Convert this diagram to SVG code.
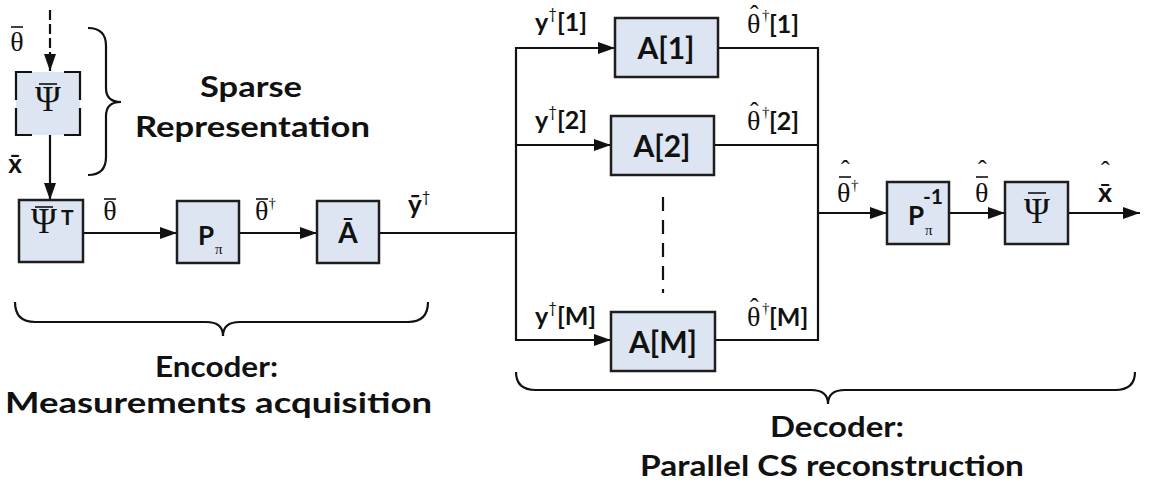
<svg xmlns="http://www.w3.org/2000/svg" width="1161" height="490" viewBox="0 0 1161 490">
<style>
.box{fill:#dce5f1;stroke:#1e1e1e;stroke-width:2.5}
.ln{fill:none;stroke:#111;stroke-width:2.2}
.arr{marker-end:url(#ah)}
.dash{stroke-dasharray:10,4}
.bar{stroke:#111;stroke-width:1.6}
.brace{fill:none;stroke:#111;stroke-width:2.2}
.sans{font-family:Lato,"Open Sans","Liberation Sans",sans-serif;font-weight:bold;fill:#111}
.serif{font-family:"Liberation Serif","DejaVu Serif",serif;fill:#111}
.big{font-size:29px}
.lbl{font-size:25px}
.bl{font-size:30px}
.gk{font-size:28px}
.psi{font-size:35px}
.hat{font-size:26px}
.dg{font-size:15px;font-weight:normal}
</style>
<defs>
<marker id="ah" markerUnits="userSpaceOnUse" markerWidth="17" markerHeight="12" refX="17" refY="6" orient="auto">
<path d="M0,0 L17,6 L0,12 z" fill="#111"/>
</marker>
</defs>

<g id="connectors">
<line class="ln arr dash" x1="50" y1="10" x2="50" y2="71"/>
<line class="ln arr" x1="50" y1="135" x2="50" y2="200"/>
<line class="ln arr" x1="83" y1="233" x2="177" y2="233"/>
<line class="ln arr" x1="239" y1="233" x2="317" y2="233"/>
<line class="ln" x1="379" y1="233" x2="516" y2="233"/>
<line class="ln" x1="516" y1="47" x2="516" y2="341"/>
<line class="ln arr" x1="515" y1="48" x2="615" y2="48"/>
<line class="ln arr" x1="515" y1="145" x2="611" y2="145"/>
<line class="ln arr" x1="515" y1="340" x2="611" y2="340"/>
<line class="ln" x1="718" y1="48" x2="819" y2="48"/>
<line class="ln" x1="714" y1="145" x2="819" y2="145"/>
<line class="ln" x1="715" y1="340" x2="819" y2="340"/>
<line class="ln" x1="818" y1="47" x2="818" y2="341"/>
<line class="ln arr" x1="818" y1="213" x2="887" y2="213"/>
<line class="ln arr" x1="949" y1="213" x2="1005" y2="213"/>
<line class="ln arr" x1="1068" y1="213" x2="1140" y2="213"/>
<line class="ln" x1="663" y1="197" x2="663" y2="293" stroke-dasharray="14,9"/>
</g>

<g id="psi-sparse">
<rect x="16" y="72" width="64" height="63" fill="#dce5f1"/>
<path class="ln" d="M16,100 V72 H32 M64,72 H80 V100 M80,108 V135 H64 M32,135 H16 V108" stroke-width="2.5"/>
<text class="serif psi" x="48" y="111" text-anchor="middle">Ψ</text>
<line class="bar" x1="39" y1="84" x2="57" y2="84"/>
</g>

<g id="psiT">
<rect class="box" x="19" y="200" width="64" height="62"/>
<text class="serif psi" x="44" y="233" text-anchor="middle">Ψ</text>
<line class="bar" x1="35" y1="207" x2="53" y2="207"/>
<text class="sans" x="61" y="225" font-size="21">T</text>
</g>

<g id="P">
<rect class="box" x="177" y="201" width="62" height="62"/>
<text class="sans" x="198" y="245" font-size="26">P</text>
<text class="serif" x="215" y="254" font-size="15">π</text>
</g>

<g id="Abar">
<rect class="box" x="317" y="201" width="62" height="62"/>
<text class="sans" x="348" y="243" font-size="28" text-anchor="middle">Ā</text>
</g>

<g id="A1">
<rect class="box" x="615" y="18" width="103" height="59"/>
<text class="sans bl" x="666" y="59" text-anchor="middle">A[1]</text>
</g>
<g id="A2">
<rect class="box" x="611" y="116" width="103" height="59"/>
<text class="sans bl" x="662" y="157" text-anchor="middle">A[2]</text>
</g>
<g id="AM">
<rect class="box" x="611" y="312" width="104" height="59"/>
<text class="sans bl" x="663" y="353" text-anchor="middle">A[M]</text>
</g>

<g id="Pinv">
<rect class="box" x="887" y="182" width="62" height="62"/>
<text class="sans" x="908" y="225" font-size="26">P</text>
<text class="sans" x="923" y="204" font-size="21">-1</text>
<text class="serif" x="925" y="235" font-size="15">π</text>
</g>

<g id="psi-out">
<rect class="box" x="1005" y="182" width="63" height="62"/>
<text class="serif psi" x="1037" y="223" text-anchor="middle">Ψ</text>
<line class="bar" x1="1028" y1="193" x2="1046" y2="193"/>
</g>

<g id="labels">
<text class="serif gk" x="17" y="51" text-anchor="middle">θ</text>
<line class="bar" x1="11" y1="27" x2="23" y2="27"/>
<text class="sans" x="15" y="173" font-size="26" text-anchor="middle">x̄</text>

<text class="serif gk" x="110" y="220" text-anchor="middle">θ</text>
<line class="bar" x1="104" y1="199" x2="116" y2="199"/>
<text class="serif gk" x="255" y="220">θ<tspan class="dg" dy="-12">†</tspan></text>
<line class="bar" x1="256" y1="199" x2="268" y2="199"/>
<text class="sans" x="408" y="214" font-size="26">ȳ<tspan class="dg" dy="-12">†</tspan></text>

<text class="sans lbl" x="535" y="31">y<tspan class="dg" dy="-12">†</tspan><tspan dy="12">[1]</tspan></text>
<text class="sans lbl" x="535" y="129">y<tspan class="dg" dy="-12">†</tspan><tspan dy="12">[2]</tspan></text>
<text class="sans lbl" x="535" y="325">y<tspan class="dg" dy="-12">†</tspan><tspan dy="12">[M]</tspan></text>

<text x="747" y="33"><tspan class="serif gk">θ</tspan><tspan class="serif hat" x="750" y="23">ˆ</tspan><tspan class="serif dg" x="762" y="20">†</tspan><tspan class="sans lbl" x="769" y="33">[1]</tspan></text>
<text x="747" y="130"><tspan class="serif gk">θ</tspan><tspan class="serif hat" x="750" y="120">ˆ</tspan><tspan class="serif dg" x="762" y="117">†</tspan><tspan class="sans lbl" x="769" y="130">[2]</tspan></text>
<text x="747" y="326"><tspan class="serif gk">θ</tspan><tspan class="serif hat" x="750" y="316">ˆ</tspan><tspan class="serif dg" x="762" y="313">†</tspan><tspan class="sans lbl" x="769" y="326">[M]</tspan></text>

<text x="837" y="202"><tspan class="serif gk">θ</tspan><tspan class="serif hat" x="841" y="178">ˆ</tspan><tspan class="serif dg" x="851" y="190">†</tspan></text>
<line class="bar" x1="839" y1="177" x2="851" y2="177"/>

<text x="975" y="202"><tspan class="serif gk">θ</tspan><tspan class="serif hat" x="978" y="178">ˆ</tspan></text>
<line class="bar" x1="976" y1="177" x2="988" y2="177"/>

<text x="1098" y="202"><tspan class="sans" font-size="27">x̄</tspan><tspan class="serif hat" x="1101" y="179">ˆ</tspan></text>

<text class="sans big" x="200" y="97" textLength="102" lengthAdjust="spacingAndGlyphs">Sparse</text>
<text class="sans big" x="135" y="137" textLength="235" lengthAdjust="spacingAndGlyphs">Representation</text>
<text class="sans big" x="155" y="377" textLength="123" lengthAdjust="spacingAndGlyphs">Encoder:</text>
<text class="sans big" x="5" y="413" textLength="427" lengthAdjust="spacingAndGlyphs">Measurements acquisition</text>
<text class="sans big" x="770" y="437" textLength="134" lengthAdjust="spacingAndGlyphs">Decoder:</text>
<text class="sans big" x="640" y="476" textLength="384" lengthAdjust="spacingAndGlyphs">Parallel CS reconstruction</text>
</g>

<g id="braces">
<path class="brace" d="M88,28 Q106,28 106,46 L106,88 Q106,102 121,102 Q106,102 106,116 L106,157 Q106,175 88,175"/>
<path class="brace" d="M15,302 Q15,322 35,322 L206,322 Q223,322 223,336 Q223,322 240,322 L408,322 Q428,322 428,302"/>
<path class="brace" d="M516,372 Q516,390 536,390 L811,390 Q828,390 828,404 Q828,390 845,390 L1115,390 Q1135,390 1135,372"/>
</g>
</svg>
